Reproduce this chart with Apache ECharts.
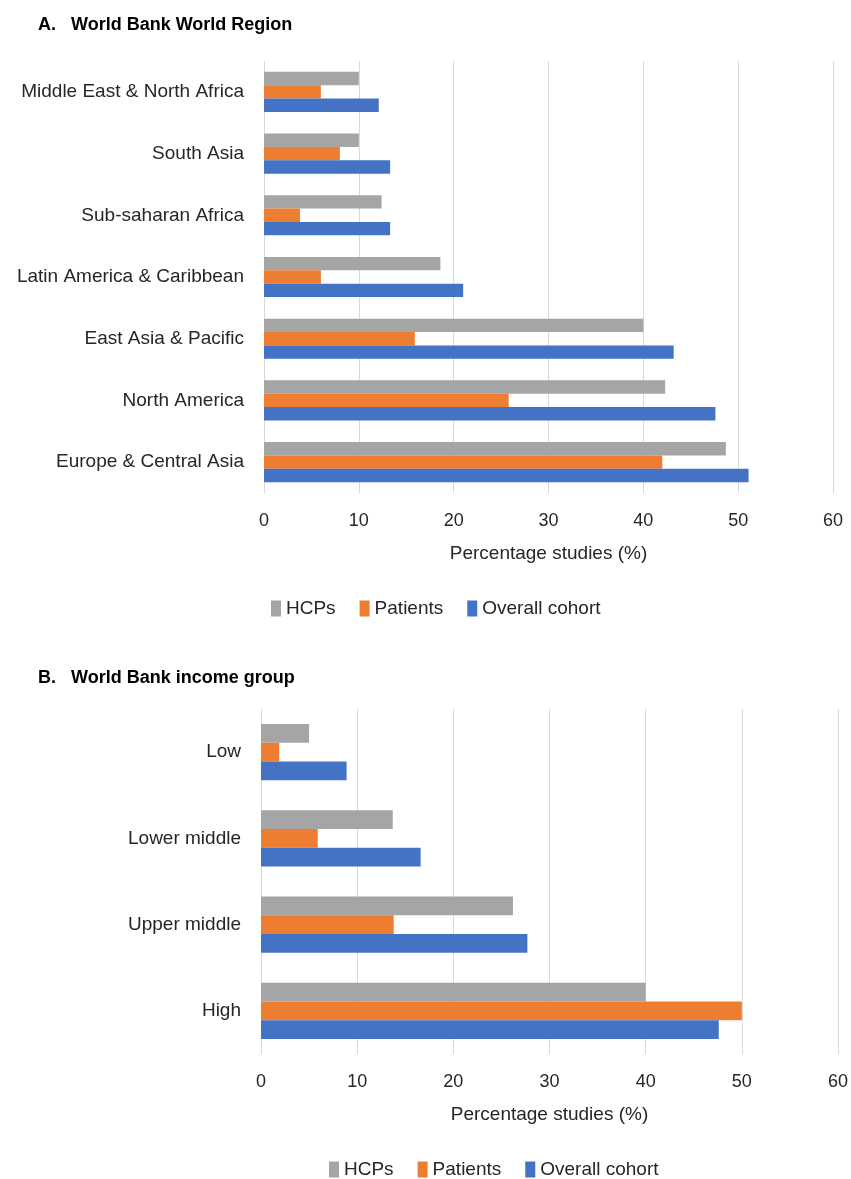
<!DOCTYPE html>
<html>
<head>
<meta charset="utf-8">
<script src="https://cdn.jsdelivr.net/npm/echarts@6/dist/echarts.min.js"></script>
<style>
  html, body { margin: 0; padding: 0; background: #fff; }
  #chart { width: 851px; height: 1179px; }
</style>
</head>
<body>
<div id="chart"></div>
<script>
// panel A - regions (bottom to top, like the category axis)
const regions = ['Europe & Central Asia', 'North America', 'East Asia & Pacific', 'Latin America & Caribbean', 'Sub-saharan Africa', 'South Asia', 'Middle East & North Africa'];
const regionHCPs = [48.7, 42.3, 40, 18.6, 12.4, 10, 10];
const regionPatients = [42, 25.8, 15.9, 6, 3.8, 8, 6];
const regionOverall = [51.1, 47.6, 43.2, 21, 13.3, 13.3, 12.1];

// panel B - income groups
const incomes = ['High', 'Upper middle', 'Lower middle', 'Low'];
const incomeHCPs = [40, 26.2, 13.7, 5];
const incomePatients = [50, 13.8, 5.9, 1.9];
const incomeOverall = [47.6, 27.7, 16.6, 8.9];

const xTicks = [0, 10, 20, 30, 40, 50, 60];
const seriesNames = ['HCPs', 'Patients', 'Overall cohort'];
const colors = ['#A5A5A5', '#ED7D31', '#4472C4'];

const font = 'Liberation Sans';
const txt = '#262626';

var myChart = echarts.init(document.getElementById('chart'));

function xAxisFor(gridIndex) {
    return {
        gridIndex: gridIndex,
        type: 'value',
        min: xTicks[0],
        max: xTicks[xTicks.length - 1],
        interval: 10,
        name: 'Percentage studies (%)',
        nameLocation: 'middle',
        nameGap: 51,
        nameTextStyle: { fontFamily: font, fontSize: 19, color: txt },
        axisLine: { show: false },
        axisTick: { show: false },
        axisLabel: { fontFamily: font, fontSize: 18, color: txt, margin: 19 },
        splitLine: { lineStyle: { color: '#D9D9D9', width: 1 } }
    };
}

function yAxisFor(gridIndex, cats) {
    return {
        gridIndex: gridIndex,
        type: 'category',
        data: cats,
        axisLine: { show: false },
        axisTick: { show: false },
        axisLabel: { fontFamily: font, fontSize: 19, color: txt, margin: 20 }
    };
}

function barsFor(idx, values) {
    return values.map((vals, i) => ({
        name: seriesNames[i],
        type: 'bar',
        xAxisIndex: idx,
        yAxisIndex: idx,
        data: vals,
        barGap: '0%',
        barCategoryGap: '35%',
        itemStyle: { color: colors[i] },
        silent: true
    }));
}

var option = {
    animation: false,
    color: colors,
    title: [
        { text: 'A.   World Bank World Region', left: 33, top: 11, textStyle: { fontFamily: font, fontSize: 18, fontWeight: 'bold', color: '#000' } },
        { text: 'B.   World Bank income group', left: 33, top: 664, textStyle: { fontFamily: font, fontSize: 18, fontWeight: 'bold', color: '#000' } }
    ],
    legend: [
        { data: seriesNames, left: 266, top: 594, itemWidth: 10, itemHeight: 16, itemGap: 24, icon: 'rect',
          textStyle: { fontFamily: font, fontSize: 19, color: txt } },
        { data: seriesNames, left: 324, top: 1155, itemWidth: 10, itemHeight: 16, itemGap: 24, icon: 'rect',
          textStyle: { fontFamily: font, fontSize: 19, color: txt } }
    ],
    grid: [
        { left: 264, width: 569, top: 61, height: 432, containLabel: false },
        { left: 261, width: 578, top: 709, height: 345, containLabel: false }
    ],
    xAxis: [xAxisFor(0), xAxisFor(1)],
    yAxis: [yAxisFor(0, regions), yAxisFor(1, incomes)],
    series: barsFor(0, [regionHCPs, regionPatients, regionOverall])
        .concat(barsFor(1, [incomeHCPs, incomePatients, incomeOverall]))
};

myChart.setOption(option);
</script>
</body>
</html>
